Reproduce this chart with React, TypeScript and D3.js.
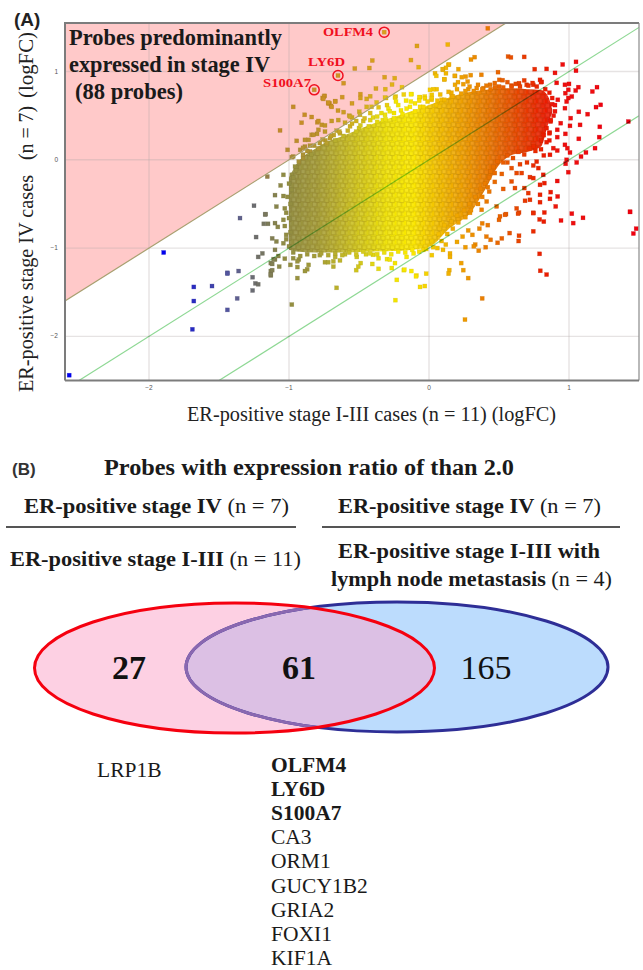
import React from "react";
import * as d3 from "d3";

const xTicks = [-2, -1, 0, 1];
const yTicks = [-2, -1, 0, 1];
const fcLines = [1, 0, -1];
const xDomain = [-2.6, 1.5];
const yDomain = [-2.5, 1.55];

// Dense cloud outline: x, upper y, lower y
const cloudX = [-1.0, -0.95, -0.8, -0.6, -0.4, -0.2, 0, 0.15, 0.3, 0.4, 0.5, 0.6, 0.7, 0.8, 0.85, 0.88];
const cloudUpper = [-0.2, -0.06, 0.14, 0.28, 0.41, 0.51, 0.62, 0.71, 0.77, 0.79, 0.81, 0.81, 0.8, 0.79, 0.72, 0.57];
const cloudLower = [-1.02, -1.04, -1.05, -1.05, -1.04, -1.03, -0.985, -0.77, -0.59, -0.34, -0.06, 0.06, 0.09, 0.15, 0.4, 0.54];

const stageIVProbes: [number, number][] = [
  [0.42, 1.49], [0.134, 1.306], [-0.086, 1.29], [-0.129, 1.13], [-0.074, 1.05], [-0.405, 1.125], [-0.53, 1.034], [-0.426, 1.04],
  [-0.61, 0.868], [-0.317, 0.936], [-0.245, 0.925], [-0.379, 0.807], [-0.312, 0.8], [-0.264, 0.853], [-0.193, 0.823],
  [-0.745, 0.725], [-0.76, 0.7], [-0.62, 0.71], [-0.67, 0.665], [-0.49, 0.744], [-0.49, 0.7], [-0.445, 0.69], [-0.71, 0.64], [-0.7, 0.61],
  [-0.65, 0.558], [-0.61, 0.54], [-0.41, 0.6], [-0.307, 0.7], [-0.238, 0.717], [-0.57, 0.5], [-0.55, 0.48],
  [-1.064, 0.333], [-0.97, 0.6], [-0.888, 0.51], [-0.838, 0.485], [-0.91, 0.42], [-0.798, 0.425], [-0.766, 0.396], [-1.01, 0.113],
  [-0.945, 0.215], [-0.86, 0.226], [-0.838, 0.283], [-0.8, 0.294], [-0.75, 0.716], [-0.72, 0.64], [-0.743, 0.32], [-0.92, 0.113],
  [-0.886, 0.15], [-0.97, 0.037], [-0.79, 0.44], [-0.72, 0.65], [-0.755, 0.69], [-0.67, 0.66], [-0.695, 0.6], [-0.55, 0.64],
  [-0.374, 0.65], [-0.445, 0.6], [-0.498, 0.545], [-0.493, 0.51], [-0.564, 0.49], [-0.648, 0.45], [-0.695, 0.44], [-0.743, 0.39],
  [-0.79, 0.34], [-0.826, 0.283], [-0.886, 0.226], [-0.9, 0.136], [-0.98, 0.03], [-0.314, 0.705], [-0.243, 0.705], [-0.236, 0.66],
  [-0.32, 1.446], [-0.65, 0.955], [-0.82, 0.793], [-0.6, 0.42], [-0.74, 0.22], [-0.68, 0.28], [-0.85, 0.16], [-0.52, 0.44],
  [-0.3, 0.62], [-0.18, 0.74], [-0.42, 0.72],
];

const upperFringe: [number, number][] = [
  [-0.124, 0.744], [-0.064, 0.71], [-0.03, 0.717], [0.02, 0.736], [0.055, 0.8], [0.138, 1.076], [0.1, 1.02], [0.186, 0.95], [0.043, 0.98],
  [0.11, 0.91], [0.186, 0.85], [-0.064, 0.6], [-0.164, 0.67], [-0.136, 0.6], [-0.29, 0.58], [-0.36, 0.595], [-0.42, 0.53], [-0.42, 0.45],
  [-0.37, 0.49], [-0.314, 0.51], [-0.47, 0.44], [-0.564, 0.38], [-0.636, 0.3], [-0.707, 0.245], [-0.78, 0.19], [-0.85, 0.094], [-0.9, 0.02],
  [-0.957, -0.076], [-0.98, -0.17], [0.143, 1.08], [0.121, 1.042], [0.098, 1.027], [0.121, 0.98], [0.052, 0.951], [0.109, 0.913],
  [0.21, 1.027], [0.184, 0.951], [0.262, 0.943], [0.234, 0.936], [0.298, 0.959], [0.374, 0.963], [0.493, 0.993], [0.502, 0.906], [0.526, 0.902],
  [0.276, 0.887], [0.207, 0.88], [0.245, 0.857], [0.341, 0.812], [0.388, 0.812], [0.436, 0.85], [0.471, 0.823], [0.59, 0.842], [0.643, 0.868],
  [0.698, 0.85], [0.745, 0.85], [0.031, 0.8], [0.007, 0.793], [-0.129, 0.744], [-0.069, 0.71], [-0.029, 0.694], [0.019, 0.68], [0.091, 0.68],
  [0.162, 0.717], [0.565, 1.17], [0.585, 1.16], [0.326, 1.163], [0.3, 1.136], [0.68, 1.166], [-0.2, 0.56], [-0.1, 0.64], [-0.25, 0.53], [-0.5, 0.36],
  [-0.66, 0.33], [-0.33, 0.45], [0.06, 0.67], [0.28, 0.8], [0.16, 0.76],
];

const redProbes: [number, number][] = [
  [1.05, 1.11], [1.05, 1.01], [0.955, 1.08], [0.9, 0.985], [0.84, 1.03], [0.755, 1.027], [1.2, 0.823], [1.167, 0.774], [1.067, 0.823],
  [1.048, 0.785], [1.0, 0.86], [0.971, 0.85], [0.995, 0.793], [0.974, 0.755], [0.912, 0.872], [0.793, 0.906], [0.805, 0.883], [0.995, 0.7],
  [1.02, 0.717], [0.983, 0.66], [0.971, 0.585], [1.226, 0.623], [1.193, 0.597], [1.133, 0.517], [1.07, 0.544], [1.424, 0.434], [1.22, 0.374],
  [1.216, 0.257], [1.186, 0.132], [1.07, 0.238], [1.079, 0.396], [1.012, 0.472], [1.007, 0.385], [0.941, 0.415], [0.869, 0.434], [0.916, 0.34],
  [0.974, 0.294], [0.916, 0.257], [0.862, 0.309], [0.888, 0.132], [0.916, 0.105], [0.971, 0.17], [0.988, 0.132], [1.007, 0.083], [1.121, 0.083],
  [1.086, 0.037], [0.983, 0], [0.976, -0.045], [1.055, -0.03], [0.995, -0.14], [0.864, 0.057], [0.745, 0.15], [0.769, -0.02], [0.745, -0.064],
  [0.781, -0.094], [0.816, -0.17], [0.916, -0.24], [0.824, -0.264], [0.793, -0.283], [0.869, -0.366], [0.919, -0.415], [0.793, -0.396],
  [0.864, -0.442], [0.793, -0.48], [0.905, -0.528], [0.745, -0.604], [1.436, -0.589], [0.709, -0.377], [0.721, -0.453], [0.686, -0.464],
  [0.681, -0.32], [0.614, -0.32], [0.59, -0.245], [0.626, -0.15], [0.662, -0.15], [0.721, -0.196], [0.745, -0.207], [0.59, -0.094], [0.636, -0.61],
  [0.626, -0.55], [0.412, -0.472], [0.483, -0.528], [0.543, -0.623], [0.376, -0.566], [0.293, -0.6], [0.88, 0.63], [0.92, 0.68], [0.9, 0.55],
  [0.86, 0.22], [0.82, 0.05], [0.7, -0.03], [0.65, -0.05], [0.56, -0.03], [0.52, -0.16], [0.47, -0.25], [0.43, -0.36], [0.53, -0.33],
];

const lowerFringe: [number, number][] = [
  [-0.66, -1.45], [-0.24, -1.59], [-0.23, -1.36], [-0.064, -1.44], [-0.03, -1.43], [-0.02, -1.29], [-0.09, -1.31], [-0.126, -1.26], [-0.18, -1.25],
  [0.257, -1.81], [0.38, -1.57], [0.28, -1.34], [0.245, -1.25], [0.23, -1.17], [0.145, -1.25], [0.14, -1.29], [0.15, -1.06], [0.15, -1.1],
  [0.26, -0.99], [0.33, -0.96], [0.32, -0.98], [0.355, -1.03], [0.405, -0.99], [0.49, -0.94], [0.52, -0.89], [0.576, -0.83], [0.643, -0.86], [0.64, -0.92],
  [0.745, -0.81], [0.79, -1.065], [0.795, -1.257], [0.84, -1.3], [0.943, -0.687], [1.03, -0.717], [1.02, -0.61], [1.1, -0.657], [1.436, -0.59],
  [1.48, -0.78], [1.46, -0.835], [0.824, -0.597], [0.745, -0.6], [0.79, -0.675], [0.82, -0.7], [0.643, -0.597], [0.55, -0.615], [0.507, -0.64],
  [0.5, -0.68], [0.44, -0.906], [0.41, -0.87], [0.42, -0.74], [0.38, -0.72], [0.36, -0.78], [0.31, -0.85], [0.28, -0.8], [0.24, -0.87], [0.2, -0.93],
  [0.12, -0.96], [0.06, -1.0],
  [-0.93, -1.13], [-0.97, -1.115], [-0.94, -1.15], [-0.99, -1.19], [-0.94, -1.215], [-0.86, -1.19], [-0.87, -1.24], [-0.886, -1.26], [-0.94, -1.34],
  [-0.743, -1.16], [-0.72, -1.16], [-0.683, -1.15], [-0.67, -1.1], [-0.636, -1.14], [-0.683, -1.21], [-0.516, -1.1], [-0.488, -1.17], [-0.505, -1.21],
  [-0.52, -1.25], [-0.4, -1.076], [-0.36, -1.115], [-0.405, -1.18], [-0.36, -1.235], [-0.3, -1.125], [-0.28, -1.13], [-0.243, -1.17], [-0.266, -1.226],
  [-0.16, -1.1], [-0.176, -1.245], [-0.093, -1.32], [-0.11, -1.06], [-0.04, -1.02], [0.02, -1.08], [0.1, -1.02], [-0.78, -1.08], [-0.6, -1.07], [-0.45, -1.07],
];

// Probes along the rim of the dense cloud
const rimProbes: [number, number][] = [
  [-0.93, -0.02], [-0.9, 0.06], [-0.87, 0.1], [-0.84, 0.06], [-0.82, 0.16], [-0.79, 0.13], [-0.76, 0.23], [-0.73, 0.19], [-0.7, 0.27], [-0.67, 0.22],
  [-0.64, 0.32], [-0.61, 0.27], [-0.58, 0.33], [-0.55, 0.41], [-0.52, 0.32], [-0.49, 0.39], [-0.46, 0.47], [-0.43, 0.38], [-0.4, 0.48], [-0.37, 0.43],
  [-0.34, 0.53], [-0.31, 0.46], [-0.28, 0.55], [-0.25, 0.47], [-0.22, 0.62], [-0.19, 0.52], [-0.16, 0.58], [-0.13, 0.66], [-0.1, 0.55], [-0.07, 0.67],
  [-0.04, 0.6], [-0.01, 0.66], [0.02, 0.7], [0.05, 0.62], [0.08, 0.74], [0.11, 0.68], [0.14, 0.77], [0.17, 0.72], [0.2, 0.8], [0.23, 0.75], [0.26, 0.78],
  [0.29, 0.83], [0.32, 0.78], [0.35, 0.85], [0.38, 0.8], [0.41, 0.84], [0.44, 0.8], [0.47, 0.87], [0.5, 0.83], [0.53, 0.82], [0.56, 0.88], [0.59, 0.83],
  [0.62, 0.86], [0.65, 0.83], [0.68, 0.9], [0.71, 0.84], [0.74, 0.87], [0.77, 0.83], [0.8, 0.88], [0.83, 0.8], [0.86, 0.76], [0.88, 0.7], [0.9, 0.62],
  [0.89, 0.5], [0.87, 0.45], [0.84, 0.36], [0.86, 0.3], [0.82, 0.28], [0.84, 0.2], [0.8, 0.22], [0.8, 0.12], [0.76, 0.1], [0.72, 0.13], [0.68, 0.06],
  [0.64, 0.09], [0.6, 0.02], [0.56, 0.05], [0.53, -0.03], [0.49, -0.02], [0.46, -0.08], [0.47, -0.15], [0.43, -0.2], [0.44, -0.13], [0.4, -0.27],
  [0.42, -0.31], [0.37, -0.33], [0.38, -0.42], [0.33, -0.42], [0.35, -0.5], [0.29, -0.5], [0.3, -0.57], [0.25, -0.57], [0.26, -0.65], [0.2, -0.63],
  [0.21, -0.71], [0.16, -0.7], [0.17, -0.78], [0.11, -0.74], [0.13, -0.84], [0.07, -0.84], [0.09, -0.92], [0.02, -0.92], [0.03, -0.99], [-0.02, -1.01],
  [-0.07, -1.04], [-0.12, -1.02], [-0.17, -1.05], [-0.22, -1.04], [-0.27, -1.07], [-0.32, -1.05], [-0.37, -1.07], [-0.42, -1.06], [-0.47, -1.04],
  [-0.52, -1.07], [-0.57, -1.05], [-0.62, -1.08], [-0.67, -1.06], [-0.72, -1.08], [-0.77, -1.06], [-0.82, -1.09], [-0.87, -1.07], [-0.92, -1.09],
  [-0.97, -1.05], [-1.0, -0.98], [-1.02, -0.9], [-0.99, -0.82], [-1.03, -0.75], [-1.0, -0.66], [-1.02, -0.6], [-0.99, -0.5], [-1.01, -0.42],
  [-0.98, -0.34], [-1.0, -0.27], [-0.97, -0.2], [-0.95, -0.12],
];

const leftProbes: [number, number][] = [
  [-2.57, -2.44], [-1.895, -1.05], [-1.68, -1.44], [-1.68, -1.6], [-1.69, -1.92], [-1.55, -1.43], [-1.44, -1.28], [-1.44, -1.29], [-1.36, -1.26],
  [-1.37, -1.57], [-1.44, -1.7], [-1.35, -0.66], [-1.17, -0.62], [-1.235, -0.875], [-1.18, -0.725], [-1.15, -0.725], [-1.22, -1.1], [-1.19, -1.06],
  [-1.26, -1.33], [-1.24, -1.4], [-1.22, -1.41], [-1.26, -1.48], [-1.13, -1.17], [-1.13, -1.26], [-1.13, -1.31], [-1.07, -1.21], [-1.1, -1.13],
  [-0.98, -1.64], [-1.04, -0.17], [-1.155, -0.19], [-1.06, -0.29], [-1.1, -0.4], [-1.04, -0.41], [-1.25, -0.52], [-1.09, -0.53], [-1.167, -0.615],
  [-1.1, -0.717], [-1.08, -0.76], [-1.04, -0.68], [-1.12, -0.89], [-1.09, -0.925], [-1.04, -0.945], [-1.1, -1.02], [-1.11, -1.125], [-1.076, -1.09],
  [-1.03, -1.12], [-1.12, -1.18], [-1.12, -1.25], [-1.13, -1.3], [-1.02, -0.85], [-1.03, -0.55],
];

const geneCircles = [
  { name: "OLFM4", x: -0.32, y: 1.446, lx: 323, ly: 36, w: 50 },
  { name: "LY6D", x: -0.65, y: 0.955, lx: 308, ly: 66, w: 37 },
  { name: "S100A7", x: -0.82, y: 0.793, lx: 263, ly: 87, w: 48 },
];

const vennCounts = ["27", "61", "165"];
const onlyIII = ["LRP1B"];
const sharedGenes = ["OLFM4", "LY6D", "S100A7", "CA3", "ORM1", "GUCY1B2", "GRIA2", "FOXI1", "KIF1A"];
const sharedBold = 3;

const W = 643, H = 970;
const x = d3.scaleLinear().domain(xDomain).range([65, 639]);
const y = d3.scaleLinear().domain(yDomain).range([380.5, 23]);
const serif = "'Liberation Serif', serif";
const sans = "'Liberation Sans', sans-serif";

const xStops: [number, string][] = [
  [-1.05, "#8e8a44"], [-0.8, "#a49c38"], [-0.55, "#cbc022"], [-0.3, "#efe208"], [-0.12, "#fbe900"], [0.05, "#f3c200"],
  [0.25, "#ee9c00"], [0.45, "#e97000"], [0.62, "#e84800"], [0.78, "#ea2400"], [0.95, "#ee0c0c"], [1.5, "#f00010"],
];
const heat = d3.scaleLinear<string>().domain(xStops.map(s => s[0])).range(xStops.map(s => s[1])).clamp(true);
const cold = d3.scaleLinear<string>().domain([-1.9, -1.68, -1.4, -1.22, -1.05]).range(["#0000f0", "#2a2cc0", "#5a5c98", "#707068", "#8e8a44"]).clamp(true);
function colorOf(px: number, py: number) {
  const base = px < -1.05 ? cold(px) : heat(px);
  const over = py - px - 0.9;
  if (over > 0 && px < 0.1) return d3.interpolateRgb(base, "#d48a20")(Math.min(0.75, over * 1.6 + 0.2));
  return base;
}

const cloudRows = cloudX.map((v, i) => ({ v, u: cloudUpper[i], l: cloudLower[i] }));
const cloudPath = d3.area<{ v: number; u: number; l: number }>().x(d => x(d.v)).y0(d => y(d.l)).y1(d => y(d.u)).curve(d3.curveMonotoneX)(cloudRows) || "";

const allProbes = [...leftProbes, ...stageIVProbes, ...upperFringe, ...lowerFringe, ...redProbes, ...rimProbes];

const fit = { lengthAdjust: "spacingAndGlyphs" as const };

export default function App() {
  const [x0, x1] = x.range();
  const [y0, y1] = y.range();
  const pink = `M${x(xDomain[0])},${y(xDomain[0] + 1)} L${x(yDomain[1] - 1)},${y(yDomain[1])} L${x0},${y1} Z`;
  const red = { cx: 234.5, cy: 668, rx: 200, ry: 65 };
  const blue = { cx: 397, cy: 667, rx: 211, ry: 65 };
  return (
    <svg width={W} height={H} viewBox={`0 0 ${W} ${H}`} style={{ position: "absolute", left: 0, top: 0, background: "#fff" }}>
      <defs>
        <clipPath id="plot"><rect x={x0} y={y1} width={x1 - x0} height={y0 - y1} /></clipPath>
        <clipPath id="redClip"><ellipse {...red} /></clipPath>
        <linearGradient id="heat" gradientUnits="userSpaceOnUse" x1={x(-1.05)} x2={x(1.5)} y1="0" y2="0">
          {xStops.map(s => <stop key={s[0]} offset={(s[0] + 1.05) / 2.55} stopColor={s[1]} />)}
        </linearGradient>
        <pattern id="tex" width="9.4" height="9.4" patternUnits="userSpaceOnUse">
          <rect x="0.3" y="0.3" width="3.9" height="3.9" fill="#fff" fillOpacity="0.1" stroke="#5a3a00" strokeOpacity="0.16" strokeWidth="0.7" />
          <rect x="5" y="1.1" width="3.9" height="3.9" fill="#fff" fillOpacity="0.05" stroke="#5a3a00" strokeOpacity="0.16" strokeWidth="0.7" />
          <rect x="2.4" y="5" width="3.9" height="3.9" fill="#fff" fillOpacity="0.1" stroke="#5a3a00" strokeOpacity="0.16" strokeWidth="0.7" />
          <rect x="7.1" y="5.5" width="3.9" height="3.9" fill="#fff" fillOpacity="0.05" stroke="#5a3a00" strokeOpacity="0.16" strokeWidth="0.7" />
        </pattern>
        <filter id="soft" x="-5%" y="-5%" width="110%" height="110%"><feGaussianBlur stdDeviation="0.55" /></filter>
      </defs>

      <text x={14} y={26} fontFamily={sans} fontWeight="700" fontSize={19} fill="#222">(A)</text>

      <g clipPath="url(#plot)">
        <path d={pink} fill="#ffc9c9" />
        {xTicks.map(t => <line key={t} x1={x(t)} x2={x(t)} y1={y0} y2={y1} stroke="#b0a8a8" strokeOpacity={0.32} strokeWidth={1.4} />)}
        {yTicks.map(t => <line key={t} x1={x0} x2={x1} y1={y(t)} y2={y(t)} stroke="#b0a8a8" strokeOpacity={0.32} strokeWidth={1.4} />)}
        <g filter="url(#soft)">
          <path d={cloudPath} fill="url(#heat)" />
          <path d={cloudPath} fill="url(#tex)" />
          {allProbes.map((p, i) => (
            <rect key={i} x={x(p[0]) - 2} y={y(p[1]) - 2} width={4} height={4} fill={colorOf(p[0], p[1])}
              stroke={d3.color(colorOf(p[0], p[1]))!.darker(0.5).formatHex()} strokeOpacity={0.5} strokeWidth={0.5} />
          ))}
        </g>
        {fcLines.map(k => (
          <line key={k} x1={x(xDomain[0])} y1={y(xDomain[0] + k)} x2={x(xDomain[1])} y2={y(xDomain[1] + k)}
            stroke={k === 1 ? "#a8a070" : "#8ed894"} strokeWidth={1.2} style={{ mixBlendMode: k === 1 ? "normal" : "multiply" }} />
        ))}
      </g>

      <path d={`M${x0},${y0} V${y1} H${x1}`} fill="none" stroke="#7c7c7c" strokeWidth={2} />
      <path d={`M${x1},${y1} V${y0}`} fill="none" stroke="#8a8a8a" strokeWidth={1.2} />
      <path d={`M${x0},${y0} H${x1}`} fill="none" stroke="#7c7c7c" strokeWidth={1.8} />
      {xTicks.map(t => <text key={t} x={x(t)} y={390} textAnchor="middle" fontFamily={sans} fontSize={6.5} fill="#555">{t < 0 ? `\u2212${-t}` : t}</text>)}
      {yTicks.map(t => <text key={t} x={58} y={y(t) + 2} textAnchor="end" fontFamily={sans} fontSize={6.5} fill="#555">{t < 0 ? `\u2212${-t}` : t}</text>)}

      <g fontFamily={serif} fontWeight="700" fontSize={24} fill="#1a1a1a">
        <text x={69} y={45} textLength={213} {...fit}>Probes predominantly</text>
        <text x={69} y={72} textLength={201} {...fit}>expressed in stage IV</text>
        <text x={75} y={99} textLength={108} {...fit}>(88 probes)</text>
      </g>

      {geneCircles.map(g => (
        <g key={g.name}>
          <circle cx={x(g.x)} cy={y(g.y)} r={5} fill="none" stroke="#f01020" strokeWidth={1.5} />
          <text x={g.lx} y={g.ly} fontFamily={serif} fontWeight="700" fontSize={13} fill="#f01020" textLength={g.w} {...fit}>{g.name}</text>
        </g>
      ))}

      <g fontFamily={serif} fontSize={21} fill="#222">
        <text transform="translate(33,392) rotate(-90)" textLength={217} {...fit}>ER-positive stage IV cases</text>
        <text transform="translate(33,160) rotate(-90)" textLength={54} {...fit}>(n = 7)</text>
        <text transform="translate(33,98) rotate(-90)" textLength={66} {...fit}>(logFC)</text>
        <text x={187} y={421} textLength={369} {...fit} fontSize={20}>ER-positive stage I-III cases (n = 11) (logFC)</text>
      </g>

      <text x={12} y={475} fontFamily={sans} fontWeight="700" fontSize={17} fill="#333">(B)</text>
      <text x={104} y={475} fontFamily={serif} fontWeight="700" fontSize={24} fill="#1a1a1a" textLength={410} {...fit}>Probes with expression ratio of than 2.0</text>

      <g fontFamily={serif} fontSize={20} fill="#1a1a1a">
        <text x={24} y={513} textLength={265} {...fit}><tspan fontWeight="700">ER-positive stage IV</tspan> (n = 7)</text>
        <text x={338} y={513} textLength={263} {...fit}><tspan fontWeight="700">ER-positive stage IV</tspan> (n = 7)</text>
        <text x={10} y={566} textLength={291} {...fit}><tspan fontWeight="700">ER-positive stage I-III</tspan> (n = 11)</text>
        <text x={338} y={558} textLength={262} {...fit} fontWeight="700">ER-positive stage I-III with</text>
        <text x={331} y={586} textLength={281} {...fit}><tspan fontWeight="700">lymph node metastasis</tspan> (n = 4)</text>
      </g>
      <line x1={6} x2={296} y1={527} y2={527} stroke="#555" strokeWidth={1.8} />
      <line x1={322} x2={620} y1={527} y2={527} stroke="#555" strokeWidth={1.8} />

      <ellipse {...blue} fill="#bcdcfd" />
      <ellipse {...red} fill="#fdd0e3" />
      <ellipse {...blue} fill="#dcc0e4" clipPath="url(#redClip)" />
      <ellipse {...blue} fill="none" stroke="#2e2e96" strokeWidth={3} />
      <ellipse {...blue} fill="none" stroke="#8a68b0" strokeWidth={3} clipPath="url(#redClip)" />
      <ellipse {...red} fill="none" stroke="#f5000f" strokeWidth={3} />

      <g fontFamily={serif} fontSize={34} textAnchor="middle" fill="#111">
        <text x={129} y={679} fontWeight="700">{vennCounts[0]}</text>
        <text x={299} y={679} fontWeight="700">{vennCounts[1]}</text>
        <text x={486} y={679}>{vennCounts[2]}</text>
      </g>

      <g fontFamily={serif} fontSize={21.5} fill="#1a1a1a">
        {onlyIII.map(g => <text key={g} x={97} y={777}>{g}</text>)}
        {sharedGenes.map((g, i) => (
          <text key={g} x={271} y={772 + i * 24.1} fontWeight={i < sharedBold ? 700 : 400}>{g}</text>
        ))}
      </g>
    </svg>
  );
}
